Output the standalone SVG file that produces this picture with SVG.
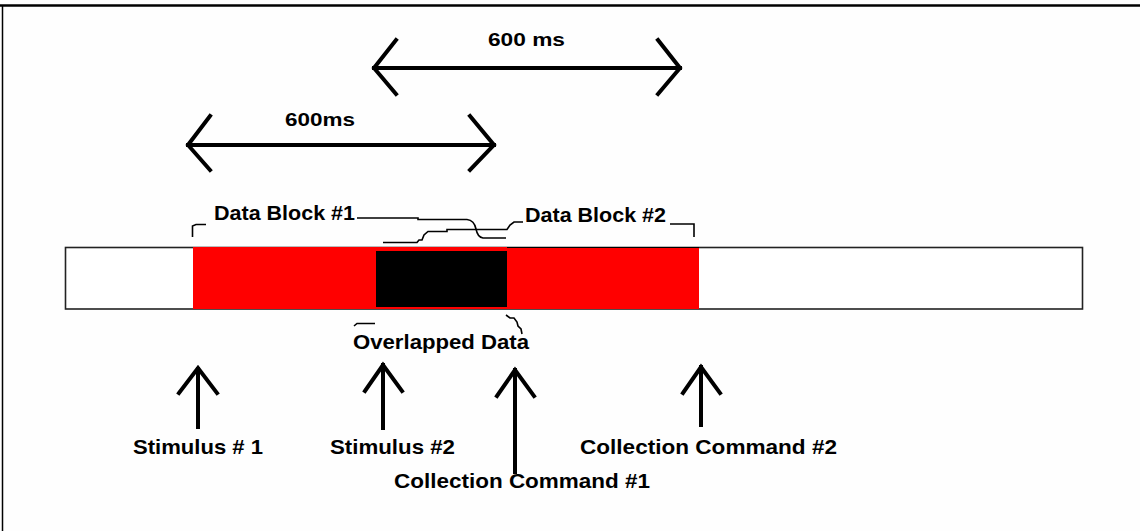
<svg xmlns="http://www.w3.org/2000/svg" width="1140" height="531" viewBox="0 0 1140 531">
<style>
.t{font-family:"Liberation Sans",Arial,sans-serif;font-weight:bold;fill:#000}
.arr{fill:none;stroke:#000;stroke-width:4;stroke-linecap:square;stroke-linejoin:miter}
.br{fill:none;stroke:#000;stroke-width:1.6}
</style>
<rect width="1140" height="531" fill="#fefefe"/>
<g id="frame">
<line x1="0" y1="5.5" x2="1140" y2="5.5" stroke="#000" stroke-width="2.5"/>
<line x1="2.5" y1="5" x2="2.5" y2="531" stroke="#000" stroke-width="1.5"/>
</g>
<g id="timeline">
<rect x="65.5" y="247.5" width="1017" height="61.5" fill="#fff" stroke="#222" stroke-width="1.6"/>
<rect x="193" y="247" width="506" height="62" fill="#ff0000"/>
<rect x="376" y="251" width="131" height="56" fill="#000"/>
<line x1="507" y1="247.5" x2="699" y2="247.5" stroke="#000" stroke-width="1"/>
</g>
<g id="span1">
<path class="arr" d="M374 68H680M396 40L374 68L396 94M658 40L680 68L658 94"/>
<text class="t" x="488" y="46" font-size="18" textLength="77" lengthAdjust="spacingAndGlyphs">600 ms</text>
</g>
<g id="span2">
<path class="arr" d="M188 145H494M210 116L188 145L210 170M470 116L494 145L470 170"/>
<text class="t" x="285" y="126" font-size="18" textLength="70" lengthAdjust="spacingAndGlyphs">600ms</text>
</g>
<g id="dataBlock1">
<path class="br" d="M192.5 237V226L196 224.5H206"/>
<text class="t" x="214" y="220" font-size="20" textLength="141" lengthAdjust="spacingAndGlyphs">Data Block #1</text>
<path class="br" d="M357 218H418V219.5H467C472 220 475 224 476 229C477 234 479 237.5 483 238H506"/>
</g>
<g id="dataBlock2">
<path class="br" d="M383 242.5H417L419 240H422L424 235L428 231.5H447V229.5H507L510 225L514 222H523"/>
<text class="t" x="525" y="222" font-size="20" textLength="141" lengthAdjust="spacingAndGlyphs">Data Block #2</text>
<path class="br" d="M670 224H694V237"/>
</g>
<g id="overlapped">
<path class="br" d="M354 326L357 323.5H375"/>
<path class="br" d="M506 315L510 318H514L517 322L518 326L521 329L522 334"/>
<text class="t" x="353" y="349" font-size="21" textLength="176" lengthAdjust="spacingAndGlyphs">Overlapped Data</text>
</g>
<g id="stim1">
<path class="arr" d="M198 427V369M179 393L198 368L217 393"/>
<text class="t" x="133" y="454" font-size="21" textLength="130" lengthAdjust="spacingAndGlyphs">Stimulus # 1</text>
</g>
<g id="stim2">
<path class="arr" d="M383 428V365M365 391L383 365L402 391"/>
<text class="t" x="330" y="454" font-size="21" textLength="125" lengthAdjust="spacingAndGlyphs">Stimulus #2</text>
</g>
<g id="cc1">
<path class="arr" d="M515 472V370M497 396L515 370L534 396"/>
<text class="t" x="394" y="488" font-size="21" textLength="256" lengthAdjust="spacingAndGlyphs">Collection Command #1</text>
</g>
<g id="cc2">
<path class="arr" d="M701 425V367M683 393L701 367L720 393"/>
<text class="t" x="580" y="454" font-size="21" textLength="257" lengthAdjust="spacingAndGlyphs">Collection Command #2</text>
</g>
</svg>
